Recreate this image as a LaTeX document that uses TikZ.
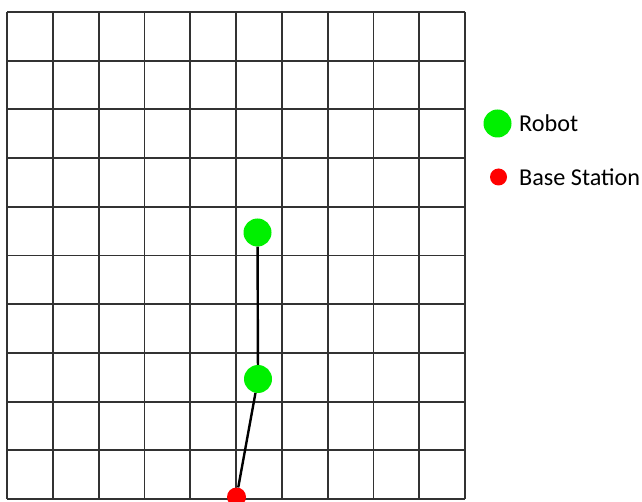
\documentclass[tikz,border=0pt]{standalone}
\usepackage{fontspec}
\setmainfont{Carlito}
\definecolor{robotgreen}{RGB}{0,240,0}
\definecolor{basered}{RGB}{255,0,0}
\definecolor{gridgray}{RGB}{50,50,50}
\begin{document}
\begin{tikzpicture}[x=1pt,y=-1pt,
  gridline/.style={draw=gridgray,line width=1.8pt},
  robot/.style={circle,fill=robotgreen,inner sep=0pt,minimum size=28pt},
  base/.style={circle,fill=basered,inner sep=0pt,minimum size=19pt},
  basesmall/.style={circle,fill=basered,inner sep=0pt,minimum size=17pt},
  link/.style={draw=black,line width=2.4pt},
  legendtext/.style={anchor=west,inner sep=0pt,font=\fontsize{24.2}{28}\selectfont}]
\useasboundingbox (0,0) rectangle (642,502);
\fill[white] (0,0) rectangle (642,502);
% grid
\foreach \i in {0,...,10} {
  \draw[gridline] ({7+45.8*\i},12) -- ({7+45.8*\i},499);
  \draw[gridline] (7,{12+48.7*\i}) -- (465,{12+48.7*\i});
}
% nodes
\node[robot] (r1) at (257.5,232.5) {};
\node[robot] (r2) at (258,379) {};
\node[base] (bs) at (236.5,497) {};
\draw[link] (r1) -- (r2);
\draw[link] (r2) -- (bs);
% legend
\node[robot] (lr) at (497.5,123.5) {};
\node[legendtext] (lrt) at (519,123.5) {Robot};
\node[basesmall] (lb) at (498.5,177) {};
\node[legendtext] (lbt) at (519,177) {Base Station};
\end{tikzpicture}
\end{document}
